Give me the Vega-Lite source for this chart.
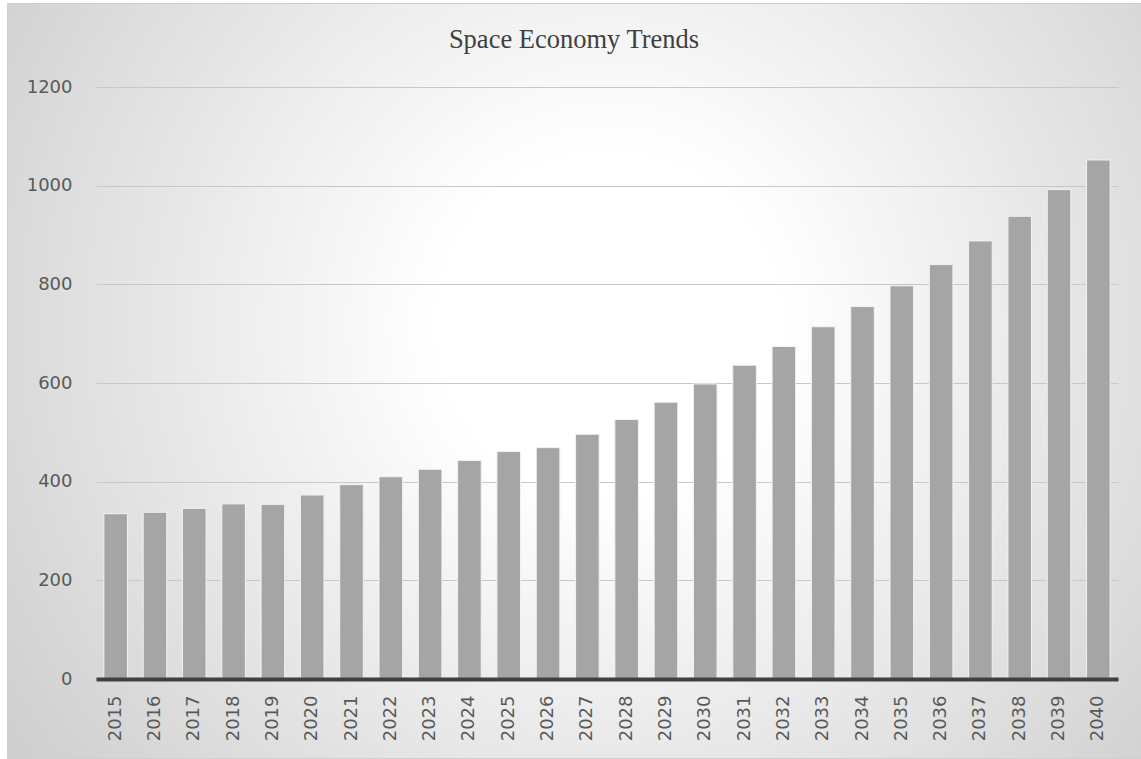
{
  "$schema": "https://vega.github.io/schema/vega-lite/v6.json",
  "autosize": {"type": "none"},
  "padding": {"left": 7, "top": 3, "right": 0, "bottom": 1},
  "width": 1134,
  "height": 755,
  "background": "white",
  "title": {
    "text": "Space Economy Trends",
    "font": "Liberation Serif",
    "fontSize": 26.5,
    "fontWeight": "normal",
    "color": "#404040",
    "anchor": "middle",
    "frame": "group",
    "offset": -45,
    "dy": 26,
    "baseline": "alphabetic"
  },
  "data": {
    "values": [
      {"year": "2015", "value": 335},
      {"year": "2016", "value": 338},
      {"year": "2017", "value": 346},
      {"year": "2018", "value": 355},
      {"year": "2019", "value": 354},
      {"year": "2020", "value": 373},
      {"year": "2021", "value": 394},
      {"year": "2022", "value": 410},
      {"year": "2023", "value": 425},
      {"year": "2024", "value": 443},
      {"year": "2025", "value": 461},
      {"year": "2026", "value": 469},
      {"year": "2027", "value": 496},
      {"year": "2028", "value": 526},
      {"year": "2029", "value": 561},
      {"year": "2030", "value": 598},
      {"year": "2031", "value": 636},
      {"year": "2032", "value": 674},
      {"year": "2033", "value": 714},
      {"year": "2034", "value": 755},
      {"year": "2035", "value": 797},
      {"year": "2036", "value": 840},
      {"year": "2037", "value": 888},
      {"year": "2038", "value": 938},
      {"year": "2039", "value": 992},
      {"year": "2040", "value": 1052}
    ]
  },
  "mark": {"type": "bar", "color": "#a5a5a5", "stroke": "#f2f2f2", "strokeWidth": 1},
  "encoding": {
    "x": {
      "field": "year",
      "type": "ordinal",
      "scale": {"range": [89, 1111], "paddingInner": 0.4, "paddingOuter": 0.2},
      "axis": {
        "title": null,
        "orient": "bottom",
        "offset": -79,
        "labelAngle": -90,
        "labelFont": "DejaVu Sans",
        "labelFontSize": 18,
        "labelColor": "#595959",
        "labelPadding": 16,
        "ticks": false,
        "domainColor": "#404040",
        "domainWidth": 4,
        "grid": false,
        "zindex": 1
      }
    },
    "y": {
      "field": "value",
      "type": "quantitative",
      "scale": {"domain": [0, 1200], "range": [676, 84], "nice": false},
      "axis": {
        "title": null,
        "offset": -89,
        "ticks": false,
        "domain": false,
        "format": "d",
        "labelPadding": 24,
        "labelFont": "DejaVu Sans",
        "labelFontSize": 18,
        "labelColor": "#595959",
        "values": [0, 200, 400, 600, 800, 1000, 1200],
        "gridColor": "#c8c8c8",
        "gridWidth": 1
      }
    }
  },
  "config": {
    "view": {
      "fill": {
        "gradient": "radial",
        "x1": 0.53, "y1": 0.45, "x2": 0.53, "y2": 0.45,
        "r1": 0, "r2": 0.75,
        "stops": [
          {"offset": 0, "color": "#ffffff"},
          {"offset": 0.2, "color": "#ffffff"},
          {"offset": 1, "color": "#c4c4c4"}
        ]
      },
      "stroke": "#d0d0d0"
    }
  }
}
